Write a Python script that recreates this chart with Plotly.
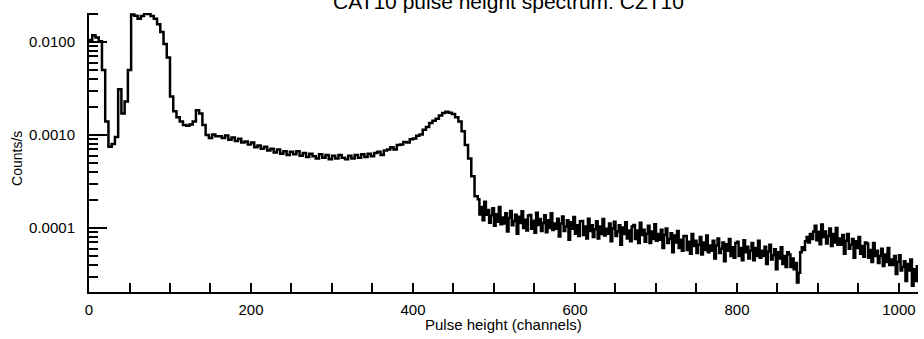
import plotly.graph_objects as go

# 4-channel bins below channel 480, 2-channel bins above
channels = list(range(0, 480, 4)) + list(range(480, 1024, 2))

counts_low = [
    0.0105, 0.0118, 0.0112, 0.0102, 0.0050, 0.0014, 0.00075, 0.00080,
    0.00095, 0.0031, 0.0017, 0.0023, 0.0050, 0.0198, 0.0192, 0.0178,
    0.0190, 0.0202, 0.0200, 0.0190, 0.0178, 0.0155, 0.0128, 0.0095,
    0.0068, 0.0026, 0.0018, 0.00155, 0.00140, 0.00128, 0.00126, 0.00130,
    0.00140, 0.00185, 0.00170, 0.00128, 0.00100, 0.00093, 0.00101, 0.00097,
    0.00097, 0.00093, 0.00099, 0.00089, 0.00094, 0.00086, 0.00091, 0.00083,
    0.00085, 0.00079, 0.00083, 0.00074, 0.00077, 0.00071, 0.00075, 0.00068,
    0.00071, 0.00065, 0.00070, 0.00063, 0.00067, 0.00061, 0.00066, 0.00062,
    0.00067, 0.00060, 0.00064, 0.00058, 0.00063, 0.00059, 0.00056, 0.00062,
    0.00057, 0.00061, 0.00055, 0.00060, 0.00056, 0.00061, 0.00057, 0.00055,
    0.00060, 0.00056, 0.00061, 0.00057, 0.00062, 0.00058, 0.00063, 0.00059,
    0.00064, 0.00066, 0.00061, 0.00068, 0.00070, 0.00074, 0.00070, 0.00078,
    0.00079, 0.00084, 0.00083, 0.00090, 0.00092, 0.00098, 0.00101, 0.00114,
    0.00122, 0.00135, 0.00142, 0.00150, 0.00162, 0.00172, 0.00178, 0.00174,
    0.00168, 0.00155, 0.00140, 0.00110, 0.00078, 0.00056, 0.00036, 0.00022,
]

counts_high = [
    204e-6, 140e-6, 168e-6, 121e-6, 192e-6, 139e-6, 156e-6, 114e-6, 136e-6, 163e-6, 106e-6, 141e-6, 117e-6, 168e-6, 110e-6, 130e-6,
    112e-6, 144e-6, 92e-6, 128e-6, 152e-6, 107e-6, 119e-6, 139e-6, 87e-6, 132e-6, 113e-6, 151e-6, 100e-6, 123e-6, 94e-6, 136e-6,
    138e-6, 98e-6, 120e-6, 89e-6, 146e-6, 108e-6, 125e-6, 93e-6, 113e-6, 137e-6, 90e-6, 121e-6, 100e-6, 144e-6, 95e-6, 112e-6,
    98e-6, 126e-6, 81e-6, 112e-6, 133e-6, 93e-6, 104e-6, 121e-6, 75e-6, 115e-6, 98e-6, 131e-6, 87e-6, 107e-6, 82e-6, 118e-6,
    119e-6, 84e-6, 104e-6, 77e-6, 126e-6, 93e-6, 107e-6, 80e-6, 97e-6, 118e-6, 77e-6, 104e-6, 86e-6, 125e-6, 83e-6, 98e-6,
    87e-6, 112e-6, 72e-6, 99e-6, 117e-6, 82e-6, 92e-6, 107e-6, 66e-6, 101e-6, 86e-6, 115e-6, 77e-6, 94e-6, 72e-6, 104e-6,
    108e-6, 76e-6, 94e-6, 69e-6, 114e-6, 84e-6, 96e-6, 71e-6, 87e-6, 106e-6, 69e-6, 92e-6, 76e-6, 110e-6, 73e-6, 86e-6,
    75e-6, 96e-6, 61e-6, 84e-6, 99e-6, 69e-6, 76e-6, 88e-6, 55e-6, 83e-6, 70e-6, 93e-6, 61e-6, 75e-6, 57e-6, 82e-6,
    82e-6, 58e-6, 71e-6, 53e-6, 86e-6, 64e-6, 73e-6, 54e-6, 66e-6, 80e-6, 52e-6, 70e-6, 58e-6, 83e-6, 55e-6, 65e-6,
    57e-6, 73e-6, 47e-6, 65e-6, 77e-6, 54e-6, 60e-6, 70e-6, 44e-6, 67e-6, 57e-6, 76e-6, 50e-6, 62e-6, 48e-6, 69e-6,
    71e-6, 50e-6, 61e-6, 45e-6, 74e-6, 55e-6, 63e-6, 47e-6, 57e-6, 69e-6, 45e-6, 61e-6, 50e-6, 73e-6, 48e-6, 57e-6,
    50e-6, 63e-6, 41e-6, 56e-6, 66e-6, 46e-6, 51e-6, 59e-6, 36e-6, 55e-6, 47e-6, 62e-6, 41e-6, 50e-6, 38e-6, 55e-6,
    52e-6, 38e-6, 47e-6, 36e-6, 42e-6, 26e-6, 33e-6, 55e-6, 62e-6, 58e-6, 72e-6, 80e-6, 70e-6, 86e-6, 76e-6, 92e-6,
    106e-6, 74e-6, 91e-6, 67e-6, 109e-6, 80e-6, 92e-6, 68e-6, 82e-6, 99e-6, 64e-6, 86e-6, 70e-6, 100e-6, 66e-6, 77e-6,
    66e-6, 84e-6, 53e-6, 73e-6, 86e-6, 60e-6, 66e-6, 76e-6, 48e-6, 72e-6, 61e-6, 80e-6, 53e-6, 64e-6, 49e-6, 70e-6,
    68e-6, 48e-6, 58e-6, 43e-6, 69e-6, 50e-6, 57e-6, 42e-6, 50e-6, 60e-6, 39e-6, 52e-6, 43e-6, 61e-6, 40e-6, 46e-6,
    40e-6, 50e-6, 32e-6, 43e-6, 51e-6, 35e-6, 38e-6, 44e-6, 27e-6, 41e-6, 35e-6, 46e-6, 24e-6, 36e-6, 27e-6, 40e-6,
]

counts = counts_low + counts_high

x_tickvals = [0, 200, 400, 600, 800, 1000]
x_minor_dtick = 50
y_tickvals = [1e-4, 1e-3, 1e-2]
y_ticktext = ["0.0001", "0.0010", "0.0100"]
y_minor_vals = [2e-5, 3e-5, 4e-5, 5e-5, 6e-5, 7e-5, 8e-5, 9e-5,
                2e-4, 3e-4, 4e-4, 5e-4, 6e-4, 7e-4, 8e-4, 9e-4,
                2e-3, 3e-3, 4e-3, 5e-3, 6e-3, 7e-3, 8e-3, 9e-3, 2e-2]

title_text = "CAT10 pulse height spectrum: CZT10"
x_title = "Pulse height (channels)"
y_title = "Counts/s"

FONT = "Liberation Sans, Arial, Helvetica, sans-serif"

fig = go.Figure()
fig.add_trace(go.Scatter(
    x=channels, y=counts, mode="lines",
    line=dict(color="black", width=2.5, shape="hv"),
    showlegend=False,
))

fig.update_layout(
    width=924, height=339,
    margin=dict(l=89, r=6, t=13, b=47, autoexpand=False),
    paper_bgcolor="white", plot_bgcolor="white",
    font=dict(family=FONT, size=15, color="black"),
    annotations=[
        dict(text=title_text, xref="paper", yref="paper", x=0.5066, y=1.0,
             xanchor="center", yanchor="bottom", yshift=-2, showarrow=False,
             font=dict(size=21)),
        dict(text=x_title, xref="paper", yref="paper", x=0.5, y=-0.118,
             xanchor="center", yanchor="middle", showarrow=False,
             font=dict(size=15)),
        dict(text=y_title, xref="paper", yref="paper", x=-0.087, y=0.48,
             xanchor="center", yanchor="middle", textangle=-90, showarrow=False,
             font=dict(size=14)),
    ],
)
fig.update_xaxes(
    range=[0, 1023.5], showgrid=False, zeroline=False, automargin=False,
    showline=True, linecolor="black", linewidth=2,
    tickvals=x_tickvals, ticks="inside", ticklen=9, tickwidth=2, tickcolor="black",
    ticklabelstandoff=3,
    minor=dict(dtick=x_minor_dtick, tick0=0, ticks="inside", ticklen=9,
               tickwidth=2, tickcolor="black", showgrid=False),
    tickfont=dict(size=15),
)
fig.update_yaxes(
    type="log", range=[-4.688, -1.688], showgrid=False, zeroline=False,
    automargin=False,
    showline=True, linecolor="black", linewidth=2,
    tickvals=y_tickvals, ticktext=y_ticktext,
    ticks="inside", ticklen=18, tickwidth=2, tickcolor="black",
    ticklabelstandoff=9,
    minor=dict(tickvals=y_minor_vals, ticks="inside", ticklen=9,
               tickwidth=2, tickcolor="black", showgrid=False),
    tickfont=dict(size=15),
)

fig.write_html("out.html", config={"displayModeBar": False},
               post_script="document.body.style.margin='0px';")
